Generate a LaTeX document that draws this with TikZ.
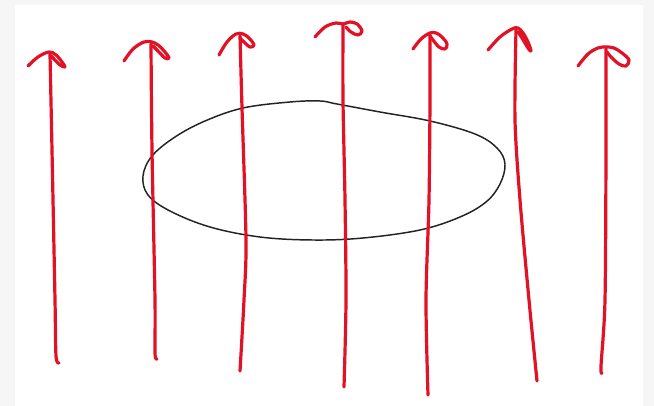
\documentclass[tikz,border=0pt]{standalone}
\definecolor{pen}{RGB}{226,18,38}
\definecolor{frameg}{RGB}{246,246,246}
\definecolor{ink}{RGB}{35,35,35}
\begin{document}
\begin{tikzpicture}[x=0.75pt,y=-0.75pt,
  redpen/.style={draw=pen,line width=2.4pt,line cap=round,line join=round},
  blackpen/.style={draw=ink,line width=1.1pt,line join=round}]
\fill[frameg] (0,0) rectangle (654,406);
\fill[white] (15,5) rectangle (643,406);
\useasboundingbox (0,0) rectangle (654,406);
% ellipse
\draw[blackpen] plot[smooth cycle,tension=0.6] coordinates {(143,176) (152,156) (175,137) (205,121) (243,108) (290,102) (320,101) (337,104) (380,112) (430,121) (475,134) (497,148) (505,164) (500,184) (486,202) (460,217) (420,230) (363,238) (313,240) (260,237) (210,227) (170,211) (148,195)};
% shafts
\draw[redpen] plot[smooth] coordinates {(50,54) (52,150) (55,300) (56,356) (59,363)};
\draw[redpen] plot[smooth] coordinates {(151,44) (152,150) (155,300) (155,353) (157,359)};
\draw[redpen] plot[smooth] coordinates {(240,36) (242,108) (246,240) (244,300) (240,371)};
\draw[redpen] plot[smooth] coordinates {(343,25) (343,100) (345,200) (346,300) (344,387)};
\draw[redpen] plot[smooth] coordinates {(430,35) (430,100) (429,200) (426,300) (428,395)};
\draw[redpen] plot[smooth] coordinates {(516,30) (515,120) (520,200) (529,300) (537,381)};
\draw[redpen] plot[smooth] coordinates {(606,49) (606,150) (605,300) (601,366) (602,373)};
% heads
\draw[redpen] plot[smooth,tension=0.6] coordinates {(28,66) (38,57) (49,52) (56,55) (62,62) (65,67) (60,65) (54,59) (51,56)};
\draw[redpen] plot[smooth,tension=0.6] coordinates {(124,61) (133,49) (144,42) (152,42) (158,45) (165,52) (169,58) (165,58) (158,51) (153,46)};
\draw[redpen] plot[smooth,tension=0.6] coordinates {(219,55) (227,42) (236,34) (243,34) (249,38) (254,45) (250,47) (244,42) (240,38)};
\draw[redpen] plot[smooth,tension=0.6] coordinates {(315,37) (325,27) (336,23) (343,24) (350,22) (357,24) (362,31) (358,35) (351,32) (346,27)};
\draw[redpen] plot[smooth,tension=0.6] coordinates {(413,49) (421,39) (430,33) (436,33) (442,37) (447,44) (445,49) (439,47) (433,40) (430,36)};
\draw[redpen] plot[smooth,tension=0.6] coordinates {(488,50) (500,37) (512,29) (518,28) (523,33) (528,42) (531,51) (528,48) (522,38) (518,32)};
\draw[redpen] plot[smooth,tension=0.6] coordinates {(578,66) (588,54) (598,48) (606,47) (614,48) (622,53) (629,60) (626,66) (619,64) (611,57) (607,52)};
\end{tikzpicture}
\end{document}
